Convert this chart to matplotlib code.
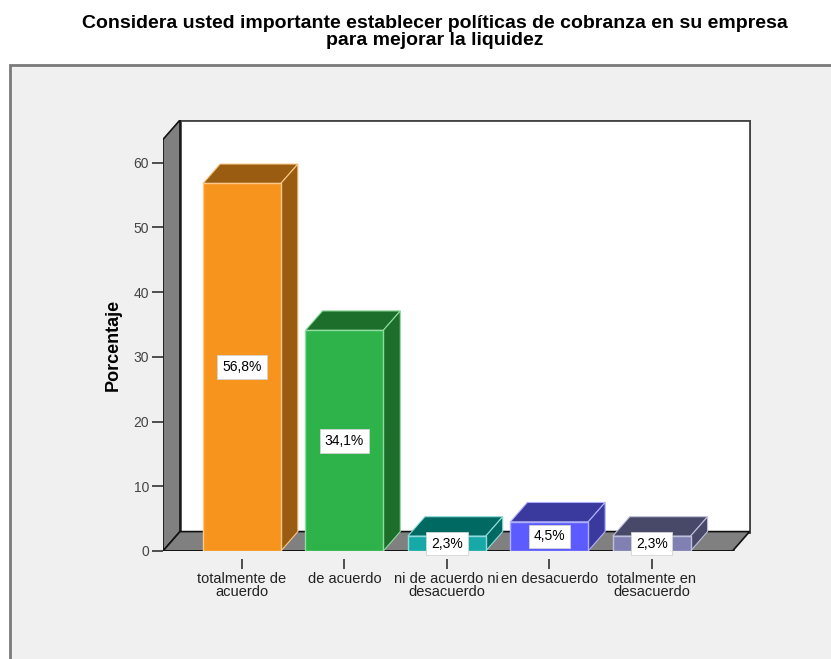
import matplotlib.pyplot as plt
from matplotlib.patches import Polygon, Rectangle

categories = ["totalmente de\nacuerdo", "de acuerdo", "ni de acuerdo ni\ndesacuerdo",
              "en desacuerdo", "totalmente en\ndesacuerdo"]
percentages = [56.8, 34.1, 2.3, 4.5, 2.3]

front_colors = ["#f7941d", "#2db34a", "#17a8a8", "#5b5bff", "#8080b2"]
dark_colors = ["#9a5c10", "#1d6e2b", "#006a62", "#3a3a9e", "#484868"]
edge_colors = ["#fcc88a", "#8fdca0", "#8fdcdc", "#b0b0ff", "#c0c0dc"]

plt.rcParams['font.family'] = ['Liberation Sans', 'DejaVu Sans']

fig = plt.figure(figsize=(8.31, 6.59), dpi=100)
fig.patch.set_facecolor('white')

# outer chart frame
frame = Rectangle((10 / 831, -0.05), 1.0, 1 - 65 / 659 + 0.05, transform=fig.transFigure,
                  facecolor='#f0f0f0', edgecolor='#7a7a7a', lw=2, zorder=-5)
fig.patches.append(frame)

fig.text(435 / 831, 1 - 32 / 659,
         "Considera usted importante establecer políticas de cobranza en su empresa\npara mejorar la liquidez",
         ha='center', va='center', fontsize=14, fontweight='bold', linespacing=0.95)

ax = fig.add_axes([163 / 831, 108 / 659, 588 / 831, 431 / 659])
ax.set_xlim(-0.771, 4.97)
ax.set_ylim(0, 66.6)
ax.patch.set_visible(False)
for s in ax.spines.values():
    s.set_visible(False)
ax.spines['bottom'].set_position(('outward', 6))

dx, dy = 0.166, 3.0
x0, x1 = -0.771, 4.79
ytop = 63.6

# back wall, left wall, floor
ax.add_patch(Polygon([(x0 + dx, dy), (x1 + dx, dy), (x1 + dx, ytop + dy), (x0 + dx, ytop + dy)],
                     closed=True, facecolor='white', edgecolor='#444444', lw=2, zorder=1))
ax.add_patch(Polygon([(x0, 0), (x0 + dx, dy), (x0 + dx, ytop + dy), (x0, ytop)],
                     closed=True, facecolor='#808080', edgecolor='#111111', lw=1.2, zorder=2))
ax.add_patch(Polygon([(x0, 0), (x1, 0), (x1 + dx, dy), (x0 + dx, dy)],
                     closed=True, facecolor='#808080', edgecolor='#111111', lw=1.2, zorder=2))
ax.plot([x0, x1], [0, 0], color='#111111', lw=1.8, zorder=3)

w = 0.76
for i, v in enumerate(percentages):
    l, r = i - w / 2, i + w / 2
    top = [(l, v), (r, v), (r + dx, v + dy), (l + dx, v + dy)]
    side = [(r, 0), (r + dx, dy), (r + dx, v + dy), (r, v)]
    front = [(l, 0), (r, 0), (r, v), (l, v)]
    ax.add_patch(Polygon(top, closed=True, facecolor=dark_colors[i], edgecolor=edge_colors[i],
                         lw=0.8, zorder=4))
    ax.add_patch(Polygon(side, closed=True, facecolor=dark_colors[i], edgecolor=edge_colors[i],
                         lw=0.8, zorder=4))
    ax.add_patch(Polygon(front, closed=True, facecolor=front_colors[i], edgecolor=edge_colors[i],
                         lw=1.0, zorder=5))
    ax.text(i, v / 2, f"{v:.1f}%".replace('.', ','), ha='center', va='center', fontsize=10,
            zorder=6, bbox=dict(boxstyle='square,pad=0.35', facecolor='white',
                                edgecolor='#d4d4d4', lw=0.6))

ax.set_yticks(range(0, 61, 10))
ax.set_xticks(range(len(categories)))
ax.set_xticklabels(categories, fontsize=10.5, color='#222222', linespacing=0.95)
ax.tick_params(axis='y', direction='out', length=8, width=1.2, color='#333333',
               labelsize=10, labelcolor='#444444', pad=2)
ax.tick_params(axis='x', direction='out', length=7, width=1.2, color='#333333', pad=2)
ax.set_ylabel("Porcentaje", fontsize=13, fontweight='bold')
ax.yaxis.set_label_coords(-0.07, 0.478)

fig.savefig("out.png", dpi=100)
